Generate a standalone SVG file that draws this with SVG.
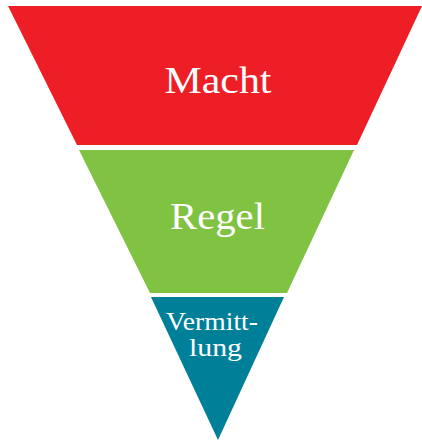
<svg xmlns="http://www.w3.org/2000/svg" width="422" height="442" viewBox="0 0 422 442">
<style>
.lbl{font-family:"Liberation Serif","DejaVu Serif",serif;fill:#ffffff;text-anchor:middle}
</style>
<rect width="422" height="442" fill="#ffffff"/>
<g id="macht">
<polygon points="8,6 422,6 357,145 77,145" fill="#ED1E25"/>
<text class="lbl" x="218" y="93" font-size="38" textLength="107" lengthAdjust="spacingAndGlyphs">Macht</text>
</g>
<g id="regel">
<polygon points="79,150 354,150 287,293 150,293" fill="#80C242"/>
<text class="lbl" x="217.5" y="229" font-size="37" textLength="95" lengthAdjust="spacingAndGlyphs">Regel</text>
</g>
<g id="vermittlung">
<polygon points="151,297 284,297 218,440" fill="#007F99"/>
<text class="lbl" x="212" y="330" font-size="25" textLength="92" lengthAdjust="spacingAndGlyphs">Vermitt-</text>
<text class="lbl" x="215.5" y="356" font-size="25" textLength="53" lengthAdjust="spacingAndGlyphs">lung</text>
</g>
<g id="connectors"/>
</svg>
